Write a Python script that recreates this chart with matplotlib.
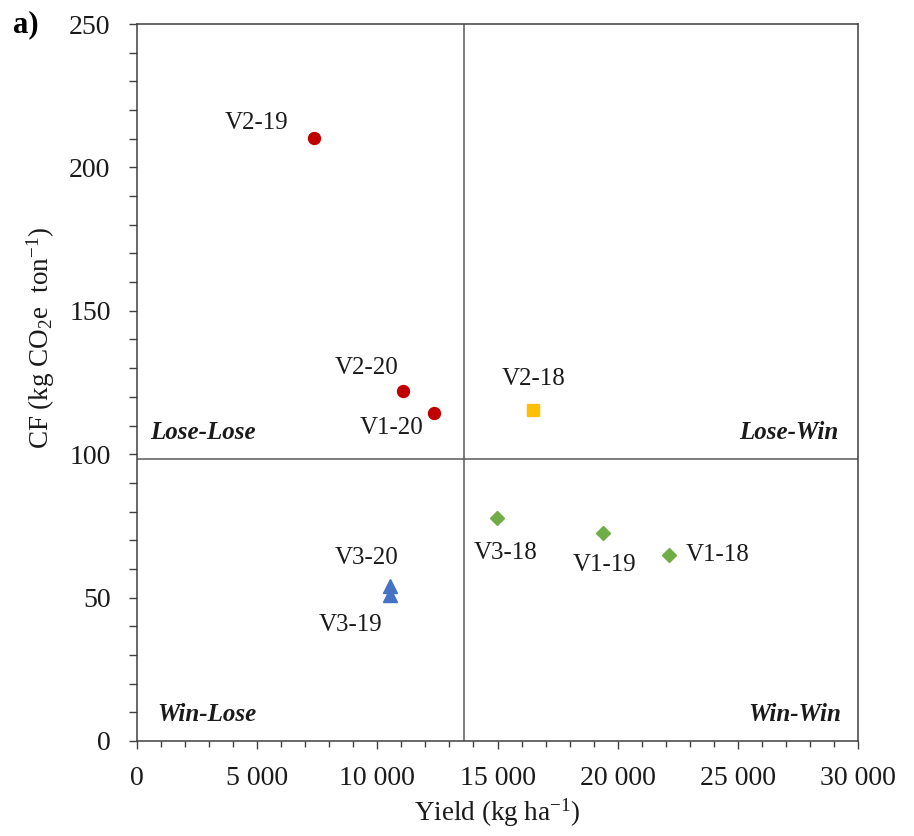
import matplotlib.pyplot as plt
import matplotlib.ticker as mticker
import numpy as np

plt.rcParams['font.family'] = ['Liberation Serif', 'DejaVu Serif']
plt.rcParams['mathtext.fontset'] = 'custom'
plt.rcParams['mathtext.rm'] = 'Liberation Serif'
plt.rcParams['mathtext.it'] = 'Liberation Serif:italic'

# yield (kg/ha) and carbon footprint (kg CO2e/ton) per variety-year
red_names = ['V2-19', 'V2-20', 'V1-20']
red_yield = [7350, 11050, 12370]
red_cf = [210.1, 122.0, 114.3]

yel_names = ['V2-18']
yel_yield = [16490]
yel_cf = [115.4]

grn_names = ['V3-18', 'V1-19', 'V1-18']
grn_yield = [14960, 19390, 22140]
grn_cf = [77.6, 72.4, 64.9]

blu_names = ['V3-20', 'V3-19']
blu_yield = [10510, 10510]
blu_cf = [54.0, 50.9]

# quadrant split lines
x_split = 13600
y_split = 98.3

# label anchors (x, y, ha)
label_pos = {
    'V2-19': (6290, 215.5, 'right'),
    'V2-20': (10870, 130.0, 'right'),
    'V1-20': (11920, 109.1, 'right'),
    'V2-18': (16490, 126.2, 'center'),
    'V3-18': (15350, 65.5, 'center'),
    'V1-19': (19440, 61.4, 'center'),
    'V1-18': (22830, 64.9, 'left'),
    'V3-20': (9540, 63.8, 'center'),
    'V3-19': (8880, 40.4, 'center'),
}

fig = plt.figure(figsize=(9.14, 8.36), dpi=100)
ax = fig.add_axes([137/914, 95/836, 721/914, 717/836])

ax.plot(red_yield, red_cf, 'o', color='#C00000', ms=8.6, zorder=3)
ax.plot(yel_yield, yel_cf, 's', color='#FFC000', ms=8.6, zorder=3)
ax.plot(grn_yield, grn_cf, 'D', color='#70AD47', ms=7.5, zorder=3)
ax.plot(blu_yield, blu_cf, '^', color='#4472C4', ms=9.5, zorder=3)

ax.axvline(x_split, color='#595959', lw=1.1, zorder=2)
ax.axhline(y_split, color='#595959', lw=1.1, zorder=2)

for name in red_names + yel_names + grn_names + blu_names:
    x, y, ha = label_pos[name]
    ax.text(x, y, name, ha=ha, va='center', fontsize=18, color='#1a1a1a')

qkw = dict(fontsize=18, fontweight='bold', fontstyle='italic', va='center', color='#1a1a1a')
ax.text(540, 107.7, 'Lose-Lose', ha='left', **qkw)
ax.text(29200, 107.7, 'Lose-Win', ha='right', **qkw)
ax.text(830, 9.4, 'Win-Lose', ha='left', **qkw)
ax.text(29290, 9.4, 'Win-Win', ha='right', **qkw)

ax.set_xlim(0, 30000)
ax.set_ylim(0, 250)
ax.xaxis.set_major_locator(mticker.MultipleLocator(5000))
ax.xaxis.set_minor_locator(mticker.MultipleLocator(1000))
ax.yaxis.set_major_locator(mticker.MultipleLocator(50))
ax.yaxis.set_minor_locator(mticker.MultipleLocator(10))
ax.xaxis.set_major_formatter(mticker.FuncFormatter(lambda v, p: f"{int(v):,}".replace(",", " ")))

for s in ax.spines.values():
    s.set_color('#404040')
    s.set_linewidth(1.1)

ax.tick_params(axis='both', which='major', direction='out', length=6, width=1.0,
               color='#404040', labelsize=20, labelcolor='#1a1a1a')
ax.tick_params(axis='x', which='major', pad=12)
ax.tick_params(axis='y', which='major', pad=13)
ax.tick_params(axis='x', which='minor', direction='out', length=4, width=1.0, color='#404040')
ax.tick_params(axis='y', which='minor', direction='out', length=6, width=1.0, color='#404040')

ax.set_xlabel('Yield (kg ha$^{-1}$)', fontsize=19.5, color='#1a1a1a', labelpad=4)
fig.text(41/914, 1 - 338/836, 'CF (kg CO$_2$e  ton$^{-1}$)', rotation=90,
         ha='center', va='center', fontsize=19.5, color='#1a1a1a')

fig.text(13/914, 1 - 25/836, 'a)', ha='left', va='center', fontsize=22, fontweight='bold')

fig.savefig('out.png', dpi=100)
